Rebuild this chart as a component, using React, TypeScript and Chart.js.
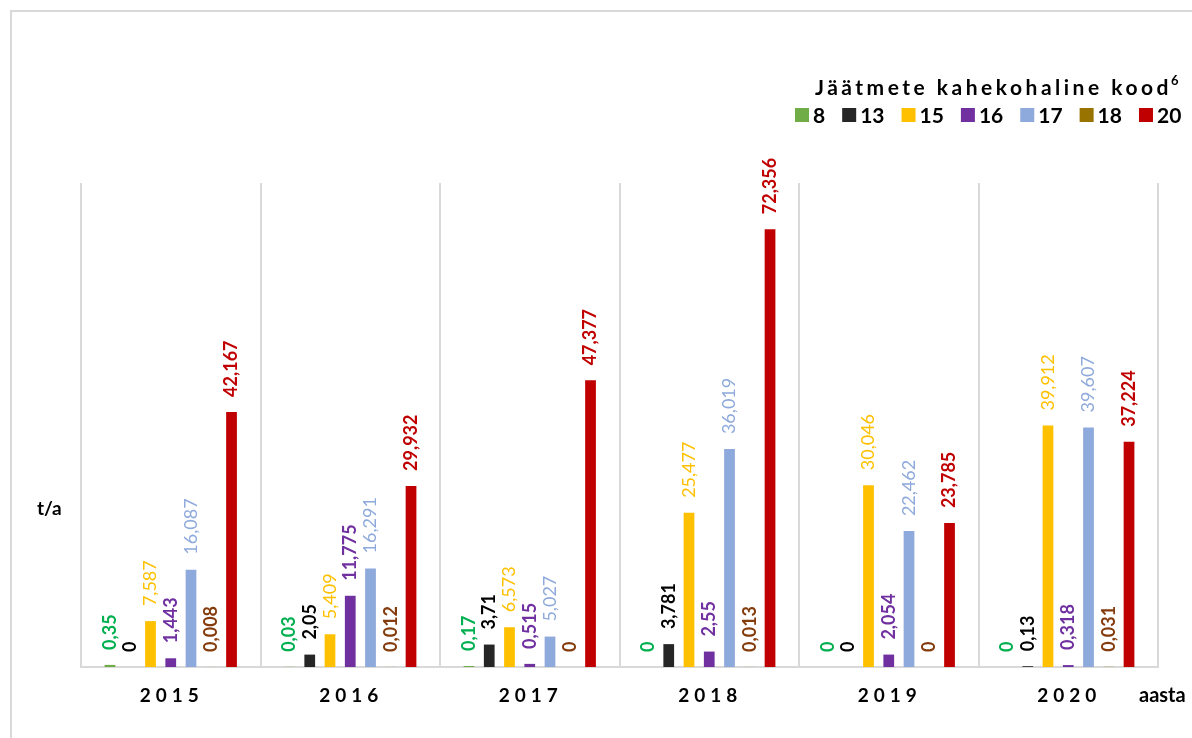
import React, { useEffect, useRef } from "react";
import { Chart, registerables } from "chart.js";

Chart.register(...registerables);

const CATEGORIES = ["2015", "2016", "2017", "2018", "2019", "2020"];
const SERIES_NAMES = ["8", "13", "15", "16", "17", "18", "20"];

const CODE_8 = [0.35, 0.03, 0.17, 0, 0, 0];
const CODE_13 = [0, 2.05, 3.71, 3.781, 0, 0.13];
const CODE_15 = [7.587, 5.409, 6.573, 25.477, 30.046, 39.912];
const CODE_16 = [1.443, 11.775, 0.515, 2.55, 2.054, 0.318];
const CODE_17 = [16.087, 16.291, 5.027, 36.019, 22.462, 39.607];
const CODE_18 = [0.008, 0.012, 0, 0.013, 0, 0.031];
const CODE_20 = [42.167, 29.932, 47.377, 72.356, 23.785, 37.224];

const SERIES_VALUES = [CODE_8, CODE_13, CODE_15, CODE_16, CODE_17, CODE_18, CODE_20];

const BAR_COLORS = ["#70AD47", "#262626", "#FFC000", "#7030A0", "#8EA9DB", "#997300", "#C00000"];
const LABEL_COLORS = ["#00B050", "#000000", "#FFC000", "#7030A0", "#8EA9DB", "#843C0C", "#C00000"];
const LABEL_WEIGHTS = ["bold", "bold", "normal", "bold", "normal", "bold", "bold"];

const LEGEND_TITLE = "Jäätmete kahekohaline kood";
const LEGEND_SUP = "6";
const Y_TITLE = "t/a";
const X_TITLE = "aasta";

const FONT = "Lato, 'Open Sans', sans-serif";

const fmt = (v: number) => String(v).replace(".", ",");

const valueLabels = {
  id: "valueLabels",
  afterDatasetsDraw(chart: any) {
    const ctx = chart.ctx;
    chart.data.datasets.forEach((ds: any, i: number) => {
      const meta = chart.getDatasetMeta(i);
      meta.data.forEach((bar: any, j: number) => {
        ctx.save();
        ctx.translate(bar.x, bar.y - 15);
        ctx.rotate(-Math.PI / 2);
        ctx.font = `${LABEL_WEIGHTS[i]} 18px ${FONT}`;
        ctx.fillStyle = LABEL_COLORS[i];
        ctx.textAlign = "left";
        ctx.textBaseline = "middle";
        ctx.fillText(fmt(ds.data[j]), 0, 0);
        ctx.restore();
      });
    });
  },
};

const decorations = {
  id: "decorations",
  beforeDraw(chart: any) {
    const ctx = chart.ctx;
    ctx.save();
    ctx.fillStyle = "#ffffff";
    ctx.fillRect(0, 0, chart.width, chart.height);
    ctx.strokeStyle = "#d9d9d9";
    ctx.lineWidth = 2;
    ctx.strokeRect(11, 11, 3000, 3000);
    ctx.restore();
  },
  afterDraw(chart: any) {
    const ctx = chart.ctx;
    const xs = chart.scales.x;
    ctx.save();
    // category labels
    ctx.fillStyle = "#000000";
    ctx.font = `bold 19px ${FONT}`;
    ctx.textAlign = "center";
    ctx.textBaseline = "alphabetic";
    (ctx as any).letterSpacing = "5px";
    CATEGORIES.forEach((c, i) => {
      ctx.fillText(c, xs.getPixelForValue(i) + 1, 702);
    });
    (ctx as any).letterSpacing = "0px";
    // axis titles
    ctx.textAlign = "left";
    ctx.font = `bold 19px ${FONT}`;
    ctx.fillText(Y_TITLE, 37, 515);
    ctx.font = `bold 20px ${FONT}`;
    ctx.fillText(X_TITLE, 1139, 702);
    // legend title
    ctx.font = `bold 21px ${FONT}`;
    (ctx as any).letterSpacing = "3.5px";
    ctx.fillText(LEGEND_TITLE, 815, 95);
    const w = ctx.measureText(LEGEND_TITLE).width;
    (ctx as any).letterSpacing = "0px";
    ctx.font = `bold 13px ${FONT}`;
    ctx.fillText(LEGEND_SUP, 815 + w - 1, 85);
    // legend items
    ctx.font = `bold 21px ${FONT}`;
    let x = 795;
    chart.data.datasets.forEach((ds: any) => {
      ctx.fillStyle = ds.backgroundColor;
      ctx.fillRect(x, 108, 14, 14);
      ctx.fillStyle = "#000000";
      ctx.fillText(ds.label, x + 18, 123);
      x += 18 + ctx.measureText(ds.label).width + 17;
    });
    ctx.restore();
  },
};

export default function App() {
  const ref = useRef<HTMLCanvasElement | null>(null);

  useEffect(() => {
    let chart: Chart | null = null;
    let cancelled = false;
    const make = () => {
      if (cancelled || !ref.current) return;
      chart = new Chart(ref.current, {
        type: "bar",
        data: {
          labels: CATEGORIES,
          datasets: SERIES_NAMES.map((name, i) => ({
            label: name,
            data: SERIES_VALUES[i],
            backgroundColor: BAR_COLORS[i],
            borderWidth: 0,
            categoryPercentage: 0.79,
            barPercentage: 0.53,
          })),
        },
        options: {
          responsive: false,
          animation: false,
          layout: { padding: { left: 81, right: 34, top: 183, bottom: 71 } },
          plugins: {
            legend: { display: false },
            tooltip: { enabled: false },
            title: { display: false },
          },
          scales: {
            x: {
              grid: { display: true, offset: true, color: "#d9d9d9", lineWidth: 2, drawTicks: false },
              border: { display: true, color: "#d9d9d9", width: 2 },
              ticks: { display: false },
            },
            y: {
              display: false,
              min: 0,
              max: 80,
            },
          },
        },
        plugins: [decorations, valueLabels],
      } as any);
    };
    const fonts = (document as any).fonts;
    if (fonts && fonts.load) {
      Promise.all([
        fonts.load(`bold 18px Lato`),
        fonts.load(`normal 18px Lato`),
      ]).then(make, make);
    } else {
      make();
    }
    return () => {
      cancelled = true;
      if (chart) chart.destroy();
    };
  }, []);

  return (
    <div style={{ position: "fixed", left: 0, top: 0, width: 1192, height: 738, overflow: "hidden", background: "#fff" }}>
      <canvas ref={ref} width={1192} height={738} style={{ display: "block" }} />
    </div>
  );
}
